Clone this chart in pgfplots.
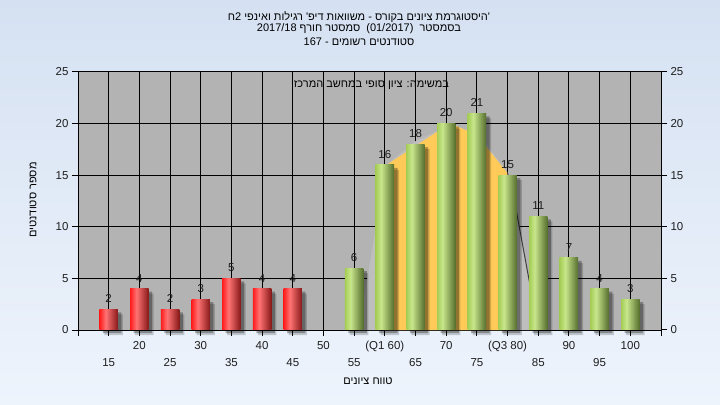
\documentclass[border=0pt]{standalone}
\usepackage{fontspec}
\setmainfont{Liberation Sans}
\newfontfamily\heb[Script=Hebrew]{Liberation Sans}
\TeXXeTstate=1
\usepackage{pgfplots}
\usepackage{pgfplotstable}
\pgfplotsset{compat=1.18}

\definecolor{bgtop}{RGB}{213,225,242}
\definecolor{bgbot}{RGB}{238,244,252}
\definecolor{plotbg}{RGB}{179,179,179}
\definecolor{lightreg}{RGB}{190,190,190}
\definecolor{orangereg}{RGB}{255,202,87}
\definecolor{rbA}{RGB}{255,28,28}
\definecolor{rbB}{RGB}{255,115,115}
\definecolor{rbC}{RGB}{135,24,24}
\definecolor{gbA}{RGB}{165,205,85}
\definecolor{gbB}{RGB}{200,230,140}
\definecolor{gbC}{RGB}{85,110,45}
\definecolor{lbl}{RGB}{30,30,30}

\pgfdeclarehorizontalshading{redbar}{100bp}{color(0bp)=(rbA); color(25bp)=(rbA); color(42bp)=(rbB); color(75bp)=(rbC); color(100bp)=(rbC)}
\pgfdeclarehorizontalshading{greenbar}{100bp}{color(0bp)=(gbA); color(25bp)=(gbA); color(40bp)=(gbB); color(75bp)=(gbC); color(100bp)=(gbC)}

\pgfplotstableread{
x y
15 2
20 4
25 2
30 3
35 5
40 4
45 4
}\redtab
\pgfplotstableread{
x y
55 6
60 16
65 18
70 20
75 21
80 15
85 11
90 7
95 4
100 3
}\greentab
\pgfplotstableread{
x y
55.7 0
60.3 16
65 18.3
69 19.4
71.5 19.8
73.5 19.3
76.4 18.1
80 15.2
81.5 11.3
83.3 5.5
85 0
}\graytab
\pgfplotstableread{
x y
60 0
60 16
60.3 16
69 19.4
71.5 19.8
73.5 19.3
76.6 17.7
80 15.2
80 0
}\orangetab

\begin{document}
\begin{tikzpicture}[font=\fontsize{11.5bp}{13bp}\selectfont]
\shade[top color=bgtop, bottom color=bgbot] (0,0) rectangle (720bp,405bp);
\begin{axis}[
  at={(78bp,75bp)}, anchor=south west, scale only axis,
  width=583bp, height=258bp,
  xmin=10, xmax=105, ymin=0, ymax=25,
  clip=false,
  axis background/.style={fill=plotbg},
  axis line style={black, line width=1bp},
  grid=major, grid style={black, line width=1bp},
  tick align=outside, major tick length=6bp,
  tick style={black, line width=1bp},
  xtick pos=left, ytick pos=left,
  xtick={10,20,30,40,50,60,70,80,90,100,105},
  xticklabels={,20,30,40,50,(Q1 60),70,(Q3 80),90,100,},
  xticklabel style={yshift=-2bp},
  extra x ticks={15,25,35,45,55,65,75,85,95},
  extra x tick labels={15,25,35,45,55,65,75,85,95},
  extra x tick style={grid=major, xticklabel style={yshift=-17bp}},
  ytick={0,5,10,15,20,25},
  /pgf/number format/assume math mode=true,
  tick label style={font=\fontsize{11.5bp}{13bp}\selectfont, text=lbl},
  barlbl/.style={nodes near coords, nodes near coords style={font=\fontsize{11.5bp}{13bp}\selectfont, text=lbl, anchor=south, yshift=3bp}},
]
\addplot[fill=lightreg, draw=none] table[x=x,y=y] {\graytab} \closedcycle;
\addplot[fill=orangereg, draw=none] table[x=x,y=y] {\orangetab} \closedcycle;
\addplot[color=black!75, line width=1bp] coordinates {(80,15.2) (81.5,11.3) (83.3,5.5) (85,0)};
% shadows
\addplot[ybar, bar width=3, bar shift=5bp, draw=none, fill=black, fill opacity=0.18, yshift=-5bp] table[x=x,y=y] {\redtab};
\addplot[ybar, bar width=3, bar shift=3.5bp, draw=none, fill=black, fill opacity=0.3, yshift=-3bp] table[x=x,y=y] {\redtab};
\addplot[ybar, bar width=3, bar shift=5bp, draw=none, fill=black, fill opacity=0.18, yshift=-5bp] table[x=x,y=y] {\greentab};
\addplot[ybar, bar width=3, bar shift=3.5bp, draw=none, fill=black, fill opacity=0.3, yshift=-3bp] table[x=x,y=y] {\greentab};
% bars, one plot per bar so that each bar gets its own shading
\pgfplotsinvokeforeach{15,20,25,30,35,40,45}{
\addplot[ybar, bar width=3, bar shift=0pt, draw=none, shade, shading=redbar, barlbl,
  x filter/.expression={abs(x-#1)<1 ? x : nan}]
  table[x=x,y=y] {\redtab};
}
\pgfplotsinvokeforeach{55,60,65,70,75,80,85,90,95,100}{
\addplot[ybar, bar width=3, bar shift=0pt, draw=none, shade, shading=greenbar, barlbl,
  x filter/.expression={abs(x-#1)<1 ? x : nan}]
  table[x=x,y=y] {\greentab};
}
\end{axis}
\begin{axis}[
  at={(78bp,75bp)}, anchor=south west, scale only axis,
  width=583bp, height=258bp,
  xmin=10, xmax=105, ymin=0, ymax=25,
  axis x line=none, axis y line*=right,
  axis line style={black, line width=1bp},
  tick align=outside, major tick length=6bp,
  tick style={black, line width=1bp},
  ytick={0,5,10,15,20,25},
  /pgf/number format/assume math mode=true,
  tick label style={font=\fontsize{11.5bp}{13bp}\selectfont, text=lbl},
]
\addplot[draw=none] coordinates {(10,0) (105,25)};
\end{axis}
% titles and labels
\node[font=\fontsize{11bp}{12.5bp}\selectfont\heb] at (359bp,388bp) {\beginR היסטוגרמת ציונים בקורס - משוואות דיפ' רגילות ואינפי 2\kern0ptח\endR'};
\node[font=\fontsize{11bp}{12.5bp}\selectfont\heb] at (359bp,376bp) {\beginR בסמסטר\ \ \beginL(01/2017)\endL{}\ \ סמסטר חורף \beginL 2017/18\endL\endR};
\node[font=\fontsize{11bp}{12.5bp}\selectfont\heb] at (359bp,363bp) {\beginR סטודנטים רשומים - \beginL 167\endL\endR};
\node[font=\fontsize{11bp}{12.5bp}\selectfont\heb] at (370bp,320bp) {\beginR במשימה: ציון סופי במחשב המרכזי\endR};
\node[font=\fontsize{11bp}{12.5bp}\selectfont\heb] at (368bp,24bp) {\beginR טווח ציונים\endR};
\node[font=\fontsize{11bp}{12.5bp}\selectfont\heb, rotate=90] at (33bp,205bp) {\beginR מספר סטודנטים\endR};
\end{tikzpicture}
\end{document}
